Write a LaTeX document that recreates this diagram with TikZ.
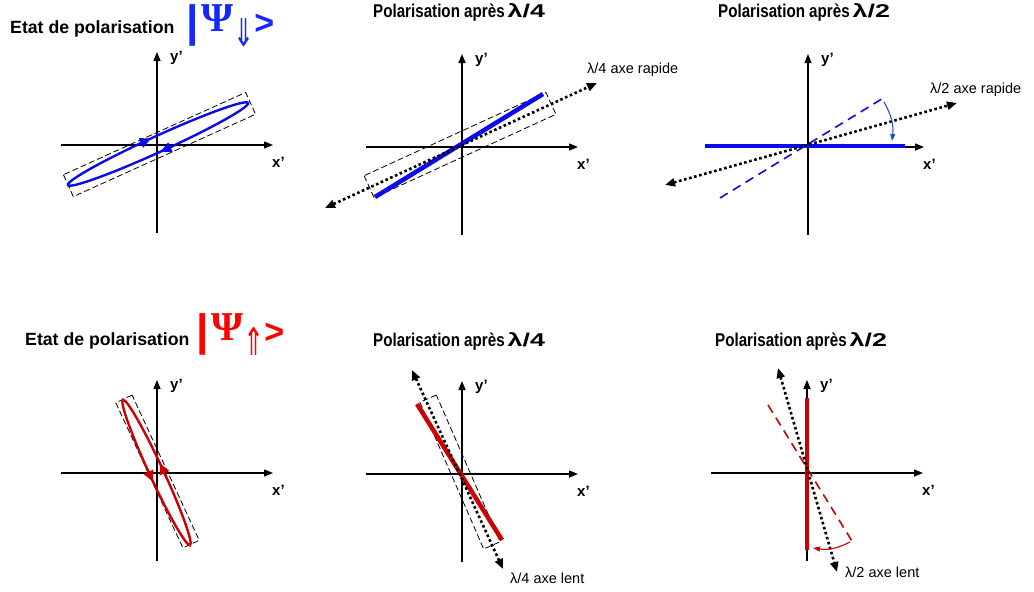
\documentclass[tikz,border=0pt]{standalone}
\usepackage{fontspec}
\setmainfont{Liberation Sans}
\newfontfamily\psiserif{Liberation Serif}
\newfontfamily\arrowfont{DejaVu Sans}
\usetikzlibrary{arrows.meta,calc}
\definecolor{myblue}{RGB}{10,10,235}
\definecolor{arcblue}{RGB}{30,80,200}
\definecolor{darkred}{RGB}{204,0,0}
\definecolor{psired}{RGB}{255,0,0}
\definecolor{psiblue}{RGB}{20,40,255}
\tikzset{
 axis/.style={line width=1.4pt, -{Triangle[length=9pt,width=7pt]}},
 dotaxis/.style={line width=2.6pt, dash pattern=on 2.6pt off 2.6pt, {Triangle[length=10pt,width=8pt]}-{Triangle[length=10pt,width=8pt]}},
 boxdash/.style={line width=0.8pt, dash pattern=on 6pt off 3pt},
 polline/.style={line width=4.5pt},
 ellipseline/.style={line width=2.4pt},
 ellarrow/.style={line width=2.2pt, -{Triangle[length=11pt,width=10pt]}},
 coldash/.style={line width=1.6pt, dash pattern=on 9pt off 6pt},
 etat/.style={font=\bfseries\fontsize{17.7}{20}\selectfont, anchor=base west, inner sep=0pt},
 title/.style={font=\bfseries\fontsize{18.5}{20}\selectfont, anchor=base west, inner sep=0pt},
 axlab/.style={font=\bfseries\fontsize{15}{16}\selectfont, anchor=base west, inner sep=0pt},
 lab/.style={font=\fontsize{14.5}{16}\selectfont, anchor=base west, inner sep=0pt},
 psinode/.style={anchor=base west, inner sep=0pt},
 bendarrow/.style={line width=1.1pt, -{Triangle[length=7pt,width=5pt]}},
}
\newcommand\drawaxes[2]{%
 \coordinate (#1) at (#2);
 \coordinate (#1xl) at ($(#1)+(-96,0)$);
 \coordinate (#1xr) at ($(#1)+(116,0)$);
 \coordinate (#1yb) at ($(#1)+(0,88)$);
 \coordinate (#1yt) at ($(#1)+(0,-93)$);
 \draw[axis] (#1xl) -- (#1xr);
 \draw[axis] (#1yb) -- (#1yt);
 \node[axlab] (#1ylab) at ($(#1)+(13,-84)$) {y’};
 \node[axlab] (#1xlab) at ($(#1)+(115,22)$) {x’};
}
\newcommand\titletext[1]{\scalebox{0.82}[1]{Polarisation après}\hspace{3pt}\scalebox{1.45}[1]{#1}}
\newcommand\psitext[1]{{\bfseries\fontsize{44}{44}\selectfont\raisebox{-5pt}{|}}\hspace{3pt}{\psiserif\bfseries\fontsize{41}{41}\selectfont Ψ}\raisebox{-15pt}{\resizebox*{21pt}{28pt}{\arrowfont #1}}{\bfseries\fontsize{34}{34}\selectfont\raisebox{-3pt}{>}}}
\begin{document}
\begin{tikzpicture}[x=1pt,y=-1pt]
\useasboundingbox (0,0) rectangle (1034,592);

% ---------- titles ----------
\node[etat] (t1) at (10,33) {Etat de polarisation};
\node[psinode, text=psiblue] (psi1) at (186,31) {\psitext{⇓}};
\node[title] (t2) at (373,17.5) {\titletext{λ/4}};
\node[title] (t3) at (718,17.5) {\titletext{λ/2}};
\node[etat] (t4) at (25,345) {Etat de polarisation};
\node[psinode, text=psired] (psi2) at (196,340) {\psitext{⇑}};
\node[title] (t5) at (373,346) {\titletext{λ/4}};
\node[title] (t6) at (715,346) {\titletext{λ/2}};

% ---------- panel 1 ----------
\drawaxes{o1}{157,145}
\draw[boxdash, rotate around={24.3:(159.5,144.5)}] (59.5,132.5) rectangle (259.5,156.5);
\draw[myblue, ellipseline, rotate around={24.5:(158,144)}] (158,144) ellipse (99 and 8);
\coordinate (e1a) at (139.2,143.8); \coordinate (e1b) at (151.0,138.4);
\coordinate (e1c) at (173.2,145.9); \coordinate (e1d) at (160.4,151.7);
\draw[myblue, ellarrow] (e1a) -- (e1b);
\draw[myblue, ellarrow] (e1c) -- (e1d);

% ---------- panel 2 ----------
\drawaxes{o2}{462,147}
\draw[boxdash, rotate around={24.6:(460,145)}] (360,133) rectangle (560,157);
\coordinate (l2a) at (375,197); \coordinate (l2b) at (543,94);
\draw[myblue, polline] (l2a) -- (l2b);
\coordinate (d2a) at (325,208); \coordinate (d2b) at (597,83);
\draw[dotaxis] (d2a) -- (d2b);
\node[lab] (lab2) at (587,73.5) {λ/4 axe rapide};

% ---------- panel 3 ----------
\drawaxes{o3}{808,147}
\coordinate (l3a) at (705,146); \coordinate (l3b) at (905,146);
\draw[myblue, polline] (l3a) -- (l3b);
\coordinate (c3a) at (720,198); \coordinate (c3b) at (885,97);
\draw[myblue, coldash] (c3a) -- (c3b);
\coordinate (d3a) at (665,185); \coordinate (d3b) at (957,103);
\draw[dotaxis] (d3a) -- (d3b);
\coordinate (a3a) at (884,102); \coordinate (a3b) at (892,141);
\draw[arcblue, bendarrow] (a3a) to[bend left=18] (a3b);
\node[lab] (lab3) at (930,93) {λ/2 axe rapide};

% ---------- panel 4 ----------
\drawaxes{o4}{157,473}
\draw[boxdash, rotate around={-65.2:(157.5,471.5)}] (77.5,462.5) rectangle (237.5,480.5);
\draw[darkred, ellipseline, rotate around={-65.2:(156.5,472.5)}] (156.5,472.5) ellipse (80 and 7);
\coordinate (e4a) at (147.2,469.1); \coordinate (e4b) at (153.1,481.8);
\coordinate (e4c) at (165.8,475.9); \coordinate (e4d) at (159.9,463.2);
\draw[darkred, ellarrow] (e4a) -- (e4b);
\draw[darkred, ellarrow] (e4c) -- (e4d);

% ---------- panel 5 ----------
\drawaxes{o5}{462,474}
\draw[boxdash, rotate around={-66.5:(460,472)}] (380,463) rectangle (540,481);
\coordinate (l5a) at (417,404); \coordinate (l5b) at (502,540);
\draw[darkred, polline] (l5a) -- (l5b);
\coordinate (d5a) at (412,370); \coordinate (d5b) at (503,569);
\draw[dotaxis] (d5a) -- (d5b);
\node[lab] (lab5) at (510,583) {λ/4 axe lent};

% ---------- panel 6 ----------
\drawaxes{o6}{807,473}
\coordinate (l6a) at (807,398); \coordinate (l6b) at (807,550);
\draw[darkred, polline] (l6a) -- (l6b);
\coordinate (c6a) at (768,405); \coordinate (c6b) at (852,541);
\draw[darkred, coldash] (c6a) -- (c6b);
\coordinate (d6a) at (778,368); \coordinate (d6b) at (837,572);
\draw[dotaxis] (d6a) -- (d6b);
\coordinate (a6a) at (850,542); \coordinate (a6b) at (813,548);
\draw[darkred, bendarrow] (a6a) to[bend left=18] (a6b);
\node[lab] (lab6) at (845,577) {λ/2 axe lent};
\end{tikzpicture}
\end{document}
